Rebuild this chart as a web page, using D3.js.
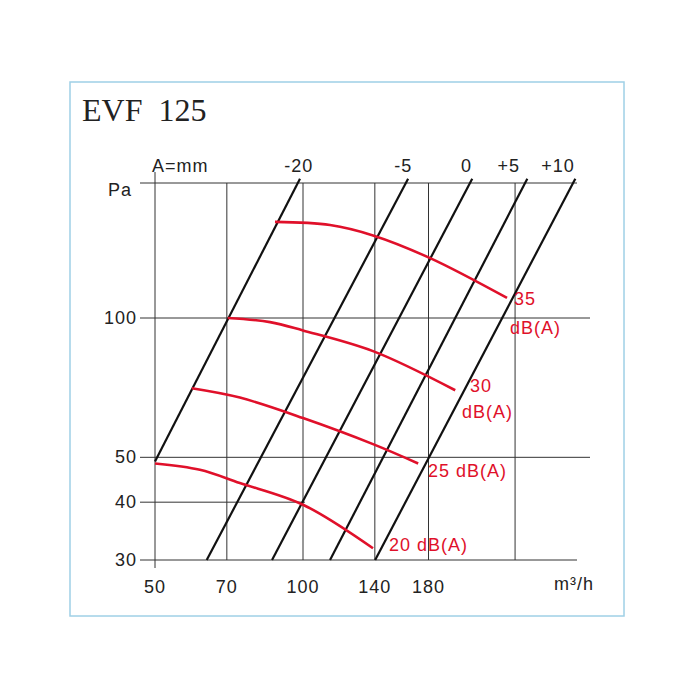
<!DOCTYPE html><html><head><script src="https://cdn.jsdelivr.net/npm/d3@7"></script>
<style>body{margin:0;background:#fff}</style></head><body><svg id="c" width="700" height="700"></svg>
<script>
const xTicks=[50,70,100,140,180];
const yTicks=[30,40,50,100];
const topLabels=["-20","-5","0","+5","+10"];
const topLabelX=[98,160,215,262,330];
const sysLines=[[[50,49],[98.6,200]],[[63.7,30],[163.6,200]],[[86.5,30],[220.9,200]],[[113.5,30],[285.9,200]],[[140.2,30],[358,200]]];
const noiseNames=["35","30","25","20"];
const noiseCurves=[
[[87.7,161.3],[113.5,158.8],[138.8,150.8],[181.4,134.7],[260,110.5]],
[[70.3,100],[85.7,97.98],[100,94],[138.8,84.8],[204,69.8]],
[[59.4,70.5],[74.4,67.3],[100,60.8],[138.8,53.4],[171.5,48.5]],
[[50,48.5],[61.7,47],[74.4,44],[100,39.5],[138.8,31.8]]];
const svg=d3.select("#c");
svg.append("rect").attr("x",70).attr("y",82).attr("width",554).attr("height",534).attr("fill","none").attr("stroke","#9fd0e6").attr("stroke-width",1.5);
svg.append("text").attr("x",82).attr("y",121).text("EVF\u00a0\u00a0125").attr("font-family","Liberation Serif").attr("font-size",32).attr("fill","#222");
const x=d3.scaleLog().domain([50,100]).range([155,303]);
const y=d3.scaleLog().domain([30,100]).range([560,318]);
const X0=155,X1=577,Y0=560,Y1=183;
const g=svg.append("g").attr("stroke","#333").attr("stroke-width",1);
[...xTicks.slice(1),270].forEach(v=>g.append("line").attr("x1",x(v)).attr("x2",x(v)).attr("y1",Y0).attr("y2",Y1));
g.append("line").attr("x1",X0).attr("x2",X0).attr("y1",Y0+8).attr("y2",172);
g.append("line").attr("x1",X0).attr("x2",X1).attr("y1",Y0).attr("y2",Y0);
g.append("line").attr("x1",X0).attr("x2",X1).attr("y1",Y1).attr("y2",Y1);
yTicks.forEach(v=>g.append("line").attr("x1",140).attr("x2",v==50||v==100?590:X0+(v==40?150:0)).attr("y1",y(v)).attr("y2",y(v)));
g.append("line").attr("x1",140).attr("x2",X0).attr("y1",Y1).attr("y2",Y1);
const tf={"font-family":"Liberation Sans","font-size":18,"fill":"#222","letter-spacing":1};
function txt(s,px,py,anchor,o){const t=svg.append("text").attr("x",px).attr("y",py).text(s).attr("text-anchor",anchor||"start");Object.entries(Object.assign({},tf,o||{})).forEach(([k,v])=>t.attr(k,v));return t;}
xTicks.forEach(v=>txt(v,x(v),593,"middle"));
yTicks.forEach(v=>txt(v,137,y(v)+6,"end"));
txt("Pa",108,196);
txt("m³/h",554,590);
txt("A=mm",152,172);
topLabels.forEach((s,i)=>txt(s,x(topLabelX[i]),172,"middle"));
const line=d3.line().x(d=>x(d[0])).y(d=>y(d[1]));
sysLines.forEach(l=>svg.append("path").attr("d",line(l)).attr("stroke","#111").attr("stroke-width",2.2).attr("fill","none"));
const cl=d3.line().x(d=>x(d[0])).y(d=>y(d[1])).curve(d3.curveCatmullRom);
noiseCurves.forEach(c=>svg.append("path").attr("d",cl(c)).attr("stroke","#e0102a").attr("stroke-width",2.6).attr("fill","none"));
const red={fill:"#e0102a"};
txt("35",514,305,"start",red);txt("dB(A)",510,334,"start",red);
txt("30",470,392,"start",red);txt("dB(A)",462,418,"start",red);
txt("25 dB(A)",428,477,"start",red);txt("20 dB(A)",389,551,"start",red);
</script></body></html>
